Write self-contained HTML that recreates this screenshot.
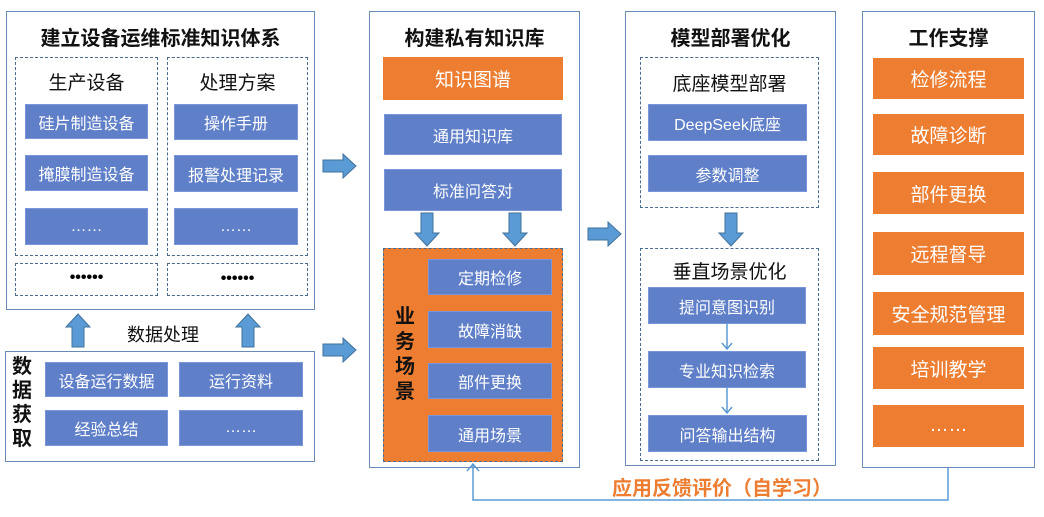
<!DOCTYPE html>
<html><head><meta charset="utf-8"><style>
body{margin:0;width:1044px;height:517px;background:#fff;position:relative;overflow:hidden;font-family:"Liberation Sans","Noto Sans CJK SC",sans-serif}
div{position:absolute;box-sizing:border-box}
.p{border:1.5px solid #6a8bb5;background:#fff}
.d{border:1.5px dashed #4a6a90}
.b{background:#5f7fc8;color:#fff;font-size:16px;display:flex;align-items:center;justify-content:center;border:1px solid #7a95d8}
.o{background:#ed7d31;color:#fff;font-size:19px;display:flex;align-items:center;justify-content:center}
.t{font-weight:bold;font-size:20px;color:#111;text-align:center}
.s{font-size:19px;color:#111;text-align:center}
</style></head><body>
<!-- left panel -->
<div class="p" style="left:6px;top:11px;width:309px;height:299px"></div>
<div class="t" style="left:6px;top:22px;width:309px">建立设备运维标准知识体系</div>
<div class="d" style="left:15px;top:57px;width:143px;height:199px"></div>
<div class="d" style="left:167px;top:57px;width:141px;height:199px"></div>
<div class="s" style="left:15px;top:68px;width:143px">生产设备</div>
<div class="s" style="left:167px;top:68px;width:141px">处理方案</div>
<div class="b" style="left:25px;top:104px;width:123px;height:35px">硅片制造设备</div>
<div class="b" style="left:25px;top:155px;width:123px;height:36px">掩膜制造设备</div>
<div class="b" style="left:25px;top:208px;width:123px;height:37px">……</div>
<div class="b" style="left:174px;top:104px;width:124px;height:36px">操作手册</div>
<div class="b" style="left:174px;top:155px;width:124px;height:37px">报警处理记录</div>
<div class="b" style="left:174px;top:208px;width:124px;height:37px">……</div>
<div class="d" style="left:15px;top:263px;width:143px;height:33px;text-align:center;font-weight:bold;line-height:28px">••••••</div>
<div class="d" style="left:167px;top:263px;width:141px;height:33px;text-align:center;font-weight:bold;line-height:30px">••••••</div>
<div class="s" style="left:113px;top:321px;width:100px;font-size:18px">数据处理</div>
<div class="p" style="left:5px;top:351px;width:310px;height:111px"></div>
<div style="left:12px;top:355px;width:26px;font-weight:bold;font-size:20px;line-height:24px;color:#111">数据获取</div>
<div class="b" style="left:45px;top:362px;width:123px;height:35px">设备运行数据</div>
<div class="b" style="left:45px;top:410px;width:123px;height:36px">经验总结</div>
<div class="b" style="left:179px;top:362px;width:124px;height:35px">运行资料</div>
<div class="b" style="left:179px;top:410px;width:124px;height:36px">……</div>
<!-- middle -->
<div class="p" style="left:369px;top:11px;width:211px;height:457px"></div>
<div class="t" style="left:369px;top:22px;width:211px">构建私有知识库</div>
<div class="o" style="left:383px;top:57px;width:180px;height:43px">知识图谱</div>
<div class="b" style="left:384px;top:114px;width:178px;height:41px">通用知识库</div>
<div class="b" style="left:384px;top:169px;width:178px;height:42px">标准问答对</div>
<div class="o" style="left:383px;top:248px;width:180px;height:214px;border:1.5px dashed #4a6a90"></div>
<div style="left:395px;top:305px;width:26px;font-weight:bold;font-size:20px;line-height:25px;color:#111">业务场景</div>
<div class="b" style="left:428px;top:259px;width:124px;height:36px">定期检修</div>
<div class="b" style="left:428px;top:311px;width:124px;height:37px">故障消缺</div>
<div class="b" style="left:428px;top:363px;width:124px;height:36px">部件更换</div>
<div class="b" style="left:428px;top:415px;width:124px;height:37px">通用场景</div>
<!-- model -->
<div class="p" style="left:625px;top:11px;width:211px;height:455px"></div>
<div class="t" style="left:625px;top:22px;width:211px">模型部署优化</div>
<div class="d" style="left:640px;top:57px;width:179px;height:151px"></div>
<div class="s" style="left:640px;top:69px;width:179px">底座模型部署</div>
<div class="b" style="left:648px;top:104px;width:159px;height:37px">DeepSeek底座</div>
<div class="b" style="left:648px;top:155px;width:159px;height:37px">参数调整</div>
<div class="d" style="left:640px;top:248px;width:179px;height:213px"></div>
<div class="s" style="left:640px;top:257px;width:179px">垂直场景优化</div>
<div class="b" style="left:648px;top:287px;width:158px;height:37px">提问意图识别</div>
<div class="b" style="left:648px;top:351px;width:158px;height:37px">专业知识检索</div>
<div class="b" style="left:648px;top:415px;width:159px;height:37px">问答输出结构</div>
<!-- right -->
<div class="p" style="left:862px;top:11px;width:173px;height:457px"></div>
<div class="t" style="left:862px;top:22px;width:173px">工作支撑</div>
<div class="o" style="left:873px;top:58px;width:151px;height:41px">检修流程</div>
<div class="o" style="left:873px;top:114px;width:151px;height:41px">故障诊断</div>
<div class="o" style="left:873px;top:172px;width:151px;height:42px">部件更换</div>
<div class="o" style="left:873px;top:232px;width:151px;height:43px">远程督导</div>
<div class="o" style="left:873px;top:292px;width:151px;height:43px">安全规范管理</div>
<div class="o" style="left:873px;top:347px;width:151px;height:42px">培训教学</div>
<div class="o" style="left:873px;top:405px;width:151px;height:42px">……</div>
<div style="left:612px;top:472px;width:220px;font-size:20px;font-weight:bold;color:#ed7d31">应用反馈评价（自学习）</div>
<svg style="position:absolute;left:0;top:0" width="1044" height="517">
<defs><g id="ar"><path d="M0,-6 H20 V-12 L33,0 L20,12 V6 H0 Z" fill="#5b9bd5" stroke="#41719c" stroke-width="1"/></g></defs>
<use href="#ar" x="323" y="166"/>
<use href="#ar" x="323" y="350"/>
<use href="#ar" x="588" y="234"/>
<g transform="translate(78,347) rotate(-90)"><use href="#ar"/></g>
<g transform="translate(248,347) rotate(-90)"><use href="#ar"/></g>
<g transform="translate(427,213) rotate(90)"><use href="#ar"/></g>
<g transform="translate(515,213) rotate(90)"><use href="#ar"/></g>
<g transform="translate(731,213) rotate(90)"><use href="#ar"/></g>
<g stroke="#5b9bd5" stroke-width="1.5" fill="none">
<path d="M727,324 V349 M722,343 L727,349 L732,343"/>
<path d="M727,388 V413 M722,407 L727,413 L732,407"/>
<path d="M948,468 V500 H473 V464 M467,471 L473,464 L479,471"/>
</g>
</svg>
</body></html>
